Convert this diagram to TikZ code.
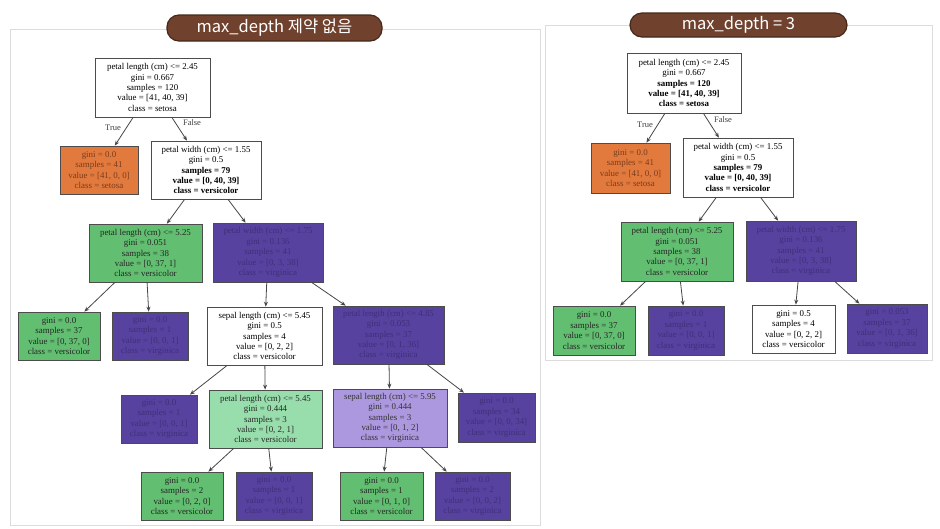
\documentclass[tikz,border=0pt]{standalone}
\usepackage{fontspec}
\setmainfont{Liberation Serif}
\newfontfamily\krfont{Noto Sans CJK KR}
\usetikzlibrary{arrows.meta}
\definecolor{orng}{RGB}{226,122,62}
\definecolor{grn}{RGB}{98,190,112}
\definecolor{prp}{RGB}{88,66,160}
\definecolor{lgrn}{RGB}{152,222,172}
\definecolor{lprp}{RGB}{172,152,222}
\definecolor{prptxt}{RGB}{62,48,120}
\definecolor{orngtxt}{RGB}{120,60,30}
\definecolor{pill}{RGB}{112,66,46}
\definecolor{pillborder}{RGB}{70,40,26}
\definecolor{edgec}{RGB}{70,70,70}
\definecolor{framec}{RGB}{220,220,220}
\begin{document}
\begin{tikzpicture}[x=1pt,y=-1pt,
  tn/.style={draw=black!70,line width=0.7pt,align=center,inner sep=1pt,
    font=\fontsize{8.9}{10.4}\selectfont},
  whitebox/.style={tn,fill=white},
  orbox/.style={tn,fill=orng,text=orngtxt},
  gbox/.style={tn,fill=grn,text=black!85},
  pbox/.style={tn,fill=prp,text=prptxt},
  lgbox/.style={tn,fill=lgrn,text=black!85},
  lpbox/.style={tn,fill=lprp,text=black!80},
  conn/.style={draw=edgec,line width=0.8pt,-{Stealth[length=5pt,width=4pt]}},
  elab/.style={font=\fontsize{8.5}{9}\selectfont,text=black!75,inner sep=0pt},
  pillbox/.style={fill=pill,draw=pillborder,line width=1.2pt,rounded corners=12pt,
    text=white,font=\krfont\fontsize{16.5}{18}\selectfont,inner sep=0pt},
  frame/.style={draw=framec,line width=0.8pt}]
\useasboundingbox[fill=white] (0,0) rectangle (940,528);

% frames
\draw[frame] (10,29) rectangle (540,525);
\draw[frame] (545,25) rectangle (932,360);

% title pills
\node[pillbox,minimum width=215,minimum height=26] (t1) at (274.5,28) {max\_depth 제약 없음};
\node[pillbox,minimum width=217,minimum height=24] (t2) at (738.5,25) {max\_depth = 3};

% ---------------- left tree ----------------
\node[whitebox,minimum width=115,minimum height=59] (a0) at (152.5,87.5)
  {petal length (cm) <= 2.45\\gini = 0.667\\samples = 120\\value = [41, 40, 39]\\class = setosa};
\node[orbox,minimum width=78,minimum height=48] (a1) at (99,170)
  {gini = 0.0\\samples = 41\\value = [41, 0, 0]\\class = setosa};
\node[whitebox,minimum width=110,minimum height=58] (a2) at (206,170)
  {petal width (cm) <= 1.55\\gini = 0.5\\\textbf{samples = 79}\\\textbf{value = [0, 40, 39]}\\\textbf{class = versicolor}};
\node[gbox,minimum width=113,minimum height=58] (a3) at (145.5,253)
  {petal length (cm) <= 5.25\\gini = 0.051\\samples = 38\\value = [0, 37, 1]\\class = versicolor};
\node[pbox,minimum width=110,minimum height=59] (a4) at (268,252.5)
  {petal width (cm) <= 1.75\\gini = 0.136\\samples = 41\\value = [0, 3, 38]\\class = virginica};
\node[gbox,minimum width=82,minimum height=48] (a5) at (59,336)
  {gini = 0.0\\samples = 37\\value = [0, 37, 0]\\class = versicolor};
\node[pbox,minimum width=76,minimum height=48] (a6) at (150,336)
  {gini = 0.0\\samples = 1\\value = [0, 0, 1]\\class = virginica};
\node[whitebox,minimum width=115,minimum height=58] (a7) at (264.5,336)
  {sepal length (cm) <= 5.45\\gini = 0.5\\samples = 4\\value = [0, 2, 2]\\class = versicolor};
\node[pbox,minimum width=111,minimum height=58] (a8) at (388.5,335)
  {petal length (cm) <= 4.85\\gini = 0.053\\samples = 37\\value = [0, 1, 36]\\class = virginica};
\node[pbox,minimum width=76,minimum height=48] (a9) at (159,419)
  {gini = 0.0\\samples = 1\\value = [0, 0, 1]\\class = virginica};
\node[lgbox,minimum width=113,minimum height=58] (a10) at (265.5,419)
  {petal length (cm) <= 5.45\\gini = 0.444\\samples = 3\\value = [0, 2, 1]\\class = versicolor};
\node[lpbox,minimum width=114,minimum height=58] (a11) at (390,418)
  {sepal length (cm) <= 5.95\\gini = 0.444\\samples = 3\\value = [0, 1, 2]\\class = virginica};
\node[pbox,minimum width=77,minimum height=49] (a12) at (496.5,417.5)
  {gini = 0.0\\samples = 34\\value = [0, 0, 34]\\class = virginica};
\node[gbox,minimum width=82,minimum height=48] (a13) at (182,496)
  {gini = 0.0\\samples = 2\\value = [0, 2, 0]\\class = versicolor};
\node[pbox,minimum width=76,minimum height=48] (a14) at (274,496)
  {gini = 0.0\\samples = 1\\value = [0, 0, 1]\\class = virginica};
\node[gbox,minimum width=83,minimum height=48] (a15) at (381.5,496)
  {gini = 0.0\\samples = 1\\value = [0, 1, 0]\\class = versicolor};
\node[pbox,minimum width=75,minimum height=48] (a16) at (472.5,496)
  {gini = 0.0\\samples = 2\\value = [0, 0, 2]\\class = virginica};

\draw[conn] (a0) -- (a1);
\draw[conn] (a0) -- (a2);
\draw[conn] (a2) -- (a3);
\draw[conn] (a2) -- (a4);
\draw[conn] (a3) -- (a5);
\draw[conn] (a3) -- (a6);
\draw[conn] (a4) -- (a7);
\draw[conn] (a4) -- (a8);
\draw[conn] (a7) -- (a9);
\draw[conn] (a7) -- (a10);
\draw[conn] (a8) -- (a11);
\draw[conn] (a8) -- (a12);
\draw[conn] (a10) -- (a13);
\draw[conn] (a10) -- (a14);
\draw[conn] (a11) -- (a15);
\draw[conn] (a11) -- (a16);
\node[elab] (lt1) at (113,128) {True};
\node[elab] (lf1) at (192,123) {False};

% ---------------- right tree ----------------
\node[whitebox,minimum width=114,minimum height=60] (b0) at (684,83)
  {petal length (cm) <= 2.45\\gini = 0.667\\\textbf{samples = 120}\\\textbf{value = [41, 40, 39]}\\\textbf{class = setosa}};
\node[orbox,minimum width=79,minimum height=50] (b1) at (630.5,168)
  {gini = 0.0\\samples = 41\\value = [41, 0, 0]\\class = setosa};
\node[whitebox,minimum width=110,minimum height=59] (b2) at (738,167.5)
  {petal width (cm) <= 1.55\\gini = 0.5\\\textbf{samples = 79}\\\textbf{value = [0, 40, 39]}\\\textbf{class = versicolor}};
\node[gbox,minimum width=112,minimum height=59] (b3) at (677,251.5)
  {petal length (cm) <= 5.25\\gini = 0.051\\samples = 38\\value = [0, 37, 1]\\class = versicolor};
\node[pbox,minimum width=110,minimum height=60] (b4) at (801,251)
  {petal width (cm) <= 1.75\\gini = 0.136\\samples = 41\\value = [0, 3, 38]\\class = virginica};
\node[gbox,minimum width=82,minimum height=49] (b5) at (594,330.5)
  {gini = 0.0\\samples = 37\\value = [0, 37, 0]\\class = versicolor};
\node[pbox,minimum width=76,minimum height=49] (b6) at (686,330.5)
  {gini = 0.0\\samples = 1\\value = [0, 0, 1]\\class = virginica};
\node[whitebox,minimum width=83,minimum height=48] (b7) at (793.5,329)
  {gini = 0.5\\samples = 4\\value = [0, 2, 2]\\class = versicolor};
\node[pbox,minimum width=80,minimum height=49] (b8) at (887,328.5)
  {gini = 0.053\\samples = 37\\value = [0, 1, 36]\\class = virginica};

\draw[conn] (b0) -- (b1);
\draw[conn] (b0) -- (b2);
\draw[conn] (b2) -- (b3);
\draw[conn] (b2) -- (b4);
\draw[conn] (b3) -- (b5);
\draw[conn] (b3) -- (b6);
\draw[conn] (b4) -- (b7);
\draw[conn] (b4) -- (b8);
\node[elab] (lt2) at (645,125) {True};
\node[elab] (lf2) at (723,120) {False};
\end{tikzpicture}
\end{document}
